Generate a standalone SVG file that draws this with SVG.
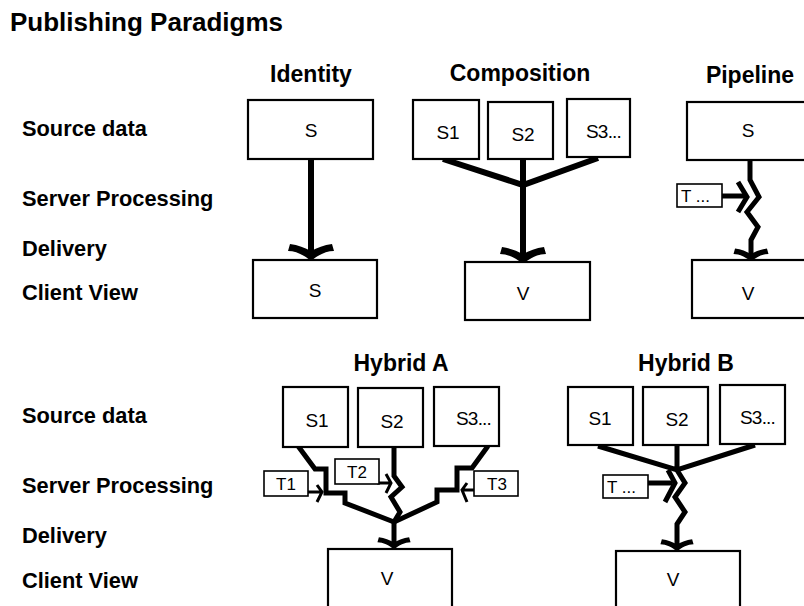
<svg xmlns="http://www.w3.org/2000/svg" xmlns:xlink="http://www.w3.org/1999/xlink" width="804" height="606" viewBox="0 0 804 606">
<style>
.title{font-family:"Liberation Sans",Arial,sans-serif;font-weight:bold;font-size:26px;fill:#000}
.row{font-family:"Liberation Sans",Arial,sans-serif;font-weight:bold;font-size:21.8px;fill:#000}
.head{font-family:"Liberation Sans",Arial,sans-serif;font-weight:bold;font-size:23px;fill:#000}
.box{fill:#fff;stroke:#000;stroke-width:2.2}
.tbox{fill:#fff;stroke:#000;stroke-width:1.6}
.lbl{font-family:"Liberation Sans",Arial,sans-serif;font-size:19px;fill:#000}
.tl{font-family:"Liberation Sans",Arial,sans-serif;font-size:17px;fill:#000}
.c{fill:none;stroke:#000;stroke-width:6;stroke-linejoin:miter;stroke-linecap:butt}
.c2{fill:none;stroke:#000;stroke-width:5;stroke-linejoin:miter;stroke-linecap:butt}
.t{fill:none;stroke:#000;stroke-width:3}
.ah{fill:#000}
</style>
<defs>
<path id="ah" class="ah" d="M0,2 C-7,-4 -15,-8 -23,-8 L-21,-15 C-13,-14 -6,-11 0,-8 C6,-11 13,-14 21,-15 L23,-8 C15,-8 7,-4 0,2 Z"/>
</defs>
<rect width="804" height="606" fill="#fff"/>
<text class="title" x="10" y="31">Publishing Paradigms</text>
<g id="row-labels">
<text class="row" x="22" y="136">Source data</text>
<text class="row" x="22" y="206">Server Processing</text>
<text class="row" x="22" y="256">Delivery</text>
<text class="row" x="22" y="300">Client View</text>
<text class="row" x="22" y="423">Source data</text>
<text class="row" x="22" y="493">Server Processing</text>
<text class="row" x="22" y="543">Delivery</text>
<text class="row" x="22" y="588">Client View</text>
</g>
<g id="headers">
<text class="head" x="311" y="82" text-anchor="middle">Identity</text>
<text class="head" x="520" y="81" text-anchor="middle">Composition</text>
<text class="head" x="750" y="83" text-anchor="middle">Pipeline</text>
<text class="head" x="401" y="371" text-anchor="middle">Hybrid A</text>
<text class="head" x="686" y="371" text-anchor="middle">Hybrid B</text>
</g>
<g id="connectors">
<path class="c" d="M311,159 L311,256"/>
<use xlink:href="#ah" transform="translate(311,259)"/>
<path class="c" d="M443,159 L523,185 L598,158 M523,159 L523,259"/>
<use xlink:href="#ah" transform="translate(523,262)"/>
<path class="c2" d="M750,160 L750,180 L759,197 L747,212 L758,227 L751,240 L751,257"/>
<path class="c2" d="M722,196 L745,196"/>
<path class="c2" d="M738,182 L747,197 L738,212"/>
<use xlink:href="#ah" transform="translate(751,260) scale(0.76)"/>
<path class="c2" d="M298,446 L315,469 L326,469 L326,493 L345,493 L345,503 L394,522"/>
<path class="c2" d="M394,447 L394,476 L402,487 L391,497 L400,512 L394,522"/>
<path class="c2" d="M488,446 L472,468 L457,468 L457,490 L437,490 L437,502 L394,522"/>
<path class="c2" d="M394,520 L394,545"/>
<use xlink:href="#ah" transform="translate(394,548) scale(0.72)"/>
<path class="t" d="M307,492 L322,492 M317,485 L322,492 L317,502"/>
<path class="t" d="M377,483 L391,483 M386,474 L391,483 L386,493"/>
<path class="t" d="M474,490 L463,490 M467,483 L462,490 L467,502"/>
<path class="c2" d="M598,446 L677,470 L755,445 M677,445 L677,470 L685,483 L675,497 L685,512 L677,524 L677,547"/>
<path class="c2" d="M648,483 L672,483"/>
<path class="c2" d="M668,470 L675,483 L665,502"/>
<use xlink:href="#ah" transform="translate(677,550) scale(0.72)"/>
</g>
<g id="identity-source">
<rect class="box" x="248" y="100" width="125" height="59"/>
<text class="lbl" x="311" y="137" text-anchor="middle">S</text>
</g>
<g id="identity-view">
<rect class="box" x="253" y="260" width="124" height="58"/>
<text class="lbl" x="315" y="297" text-anchor="middle">S</text>
</g>
<g id="comp-s1">
<rect class="box" x="413" y="100" width="66" height="59"/>
<text class="lbl" x="448" y="139" text-anchor="middle">S1</text>
</g>
<g id="comp-s2">
<rect class="box" x="488" y="102" width="65" height="57"/>
<text class="lbl" x="523" y="141" text-anchor="middle">S2</text>
</g>
<g id="comp-s3">
<rect class="box" x="567" y="99" width="63" height="58"/>
<text class="lbl" x="586" y="138" letter-spacing="-0.8">S3...</text>
</g>
<g id="comp-view">
<rect class="box" x="465" y="262" width="125" height="58"/>
<text class="lbl" x="523" y="300" text-anchor="middle">V</text>
</g>
<g id="pipe-source">
<rect class="box" x="687" y="102" width="130" height="58"/>
<text class="lbl" x="748" y="137" text-anchor="middle">S</text>
</g>
<g id="pipe-t">
<rect class="tbox" x="677" y="184" width="45" height="23"/>
<text class="tl" x="681" y="202">T ...</text>
</g>
<g id="pipe-view">
<rect class="box" x="692" y="260" width="125" height="58"/>
<text class="lbl" x="748" y="300" text-anchor="middle">V</text>
</g>
<g id="ha-s1">
<rect class="box" x="283" y="387" width="65" height="60"/>
<text class="lbl" x="317" y="427" text-anchor="middle">S1</text>
</g>
<g id="ha-s2">
<rect class="box" x="358" y="388" width="65" height="59"/>
<text class="lbl" x="392" y="428" text-anchor="middle">S2</text>
</g>
<g id="ha-s3">
<rect class="box" x="434" y="387" width="65" height="59"/>
<text class="lbl" x="456" y="425" letter-spacing="-0.8">S3...</text>
</g>
<g id="ha-t1">
<rect class="tbox" x="264" y="471" width="44" height="25"/>
<text class="tl" x="286" y="490" text-anchor="middle">T1</text>
</g>
<g id="ha-t2">
<rect class="tbox" x="335" y="459" width="44" height="25"/>
<text class="tl" x="357" y="478" text-anchor="middle">T2</text>
</g>
<g id="ha-t3">
<rect class="tbox" x="474" y="471" width="44" height="25"/>
<text class="tl" x="497" y="490" text-anchor="middle">T3</text>
</g>
<g id="ha-view">
<rect class="box" x="328" y="549" width="124" height="70"/>
<text class="lbl" x="387" y="585" text-anchor="middle">V</text>
</g>
<g id="hb-s1">
<rect class="box" x="568" y="387" width="65" height="58"/>
<text class="lbl" x="600" y="425" text-anchor="middle">S1</text>
</g>
<g id="hb-s2">
<rect class="box" x="643" y="387" width="65" height="58"/>
<text class="lbl" x="677" y="426" text-anchor="middle">S2</text>
</g>
<g id="hb-s3">
<rect class="box" x="720" y="385" width="65" height="59"/>
<text class="lbl" x="740" y="424" letter-spacing="-0.8">S3...</text>
</g>
<g id="hb-t">
<rect class="tbox" x="603" y="475" width="45" height="23"/>
<text class="tl" x="607" y="493">T ...</text>
</g>
<g id="hb-view">
<rect class="box" x="616" y="551" width="124" height="70"/>
<text class="lbl" x="673" y="586" text-anchor="middle">V</text>
</g>
</svg>
